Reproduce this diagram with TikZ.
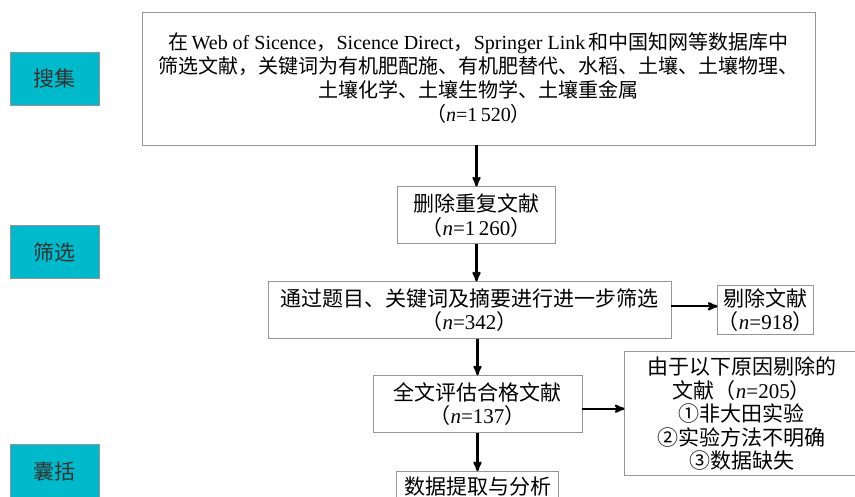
\documentclass[tikz,border=0pt]{standalone}
\usepackage{fontspec}
\setmainfont{Liberation Serif}
\newfontfamily\cjk{Noto Sans CJK SC}
\usepackage{tikz}
\usetikzlibrary{arrows}
\usetikzlibrary{positioning}
\definecolor{stagecyan}{RGB}{0,185,203}
\definecolor{boxgray}{RGB}{150,150,150}
\newcommand{\lat}[1]{{\rmfamily #1}}
\newcommand{\nval}[1]{{\rmfamily\textit{n}=#1}}

\begin{document}
\begin{tikzpicture}[->,>=stealth',x=1pt,y=-1pt,line width=2.2pt,node distance=40pt]
            \tikzstyle{box}=[draw=boxgray, line width=0.9pt, inner sep=0pt, align=center, text=black, font=\cjk\fontsize{21}{23.5}\selectfont]
            \tikzstyle{stage}=[box, fill=stagecyan, minimum width=89pt, minimum height=53pt, text=black!80]

            \useasboundingbox (0,0) rectangle (855,496);

            \node[box, minimum width=673pt, minimum height=133pt, font=\cjk\fontsize{20}{24}\selectfont] (src) at (478.5,78.5)
              {在\,\lat{Web of Sicence}，\lat{Sicence Direct}，\lat{Springer Link}\,和中国知网等数据库中\\
               筛选文献，关键词为有机肥配施、有机肥替代、水稻、土壤、土壤物理、\\
               土壤化学、土壤生物学、土壤重金属\\
               （\nval{1\,520}）};
            \node[box, minimum width=158pt, minimum height=57pt] (dup) [below=41pt of src, xshift=-2pt] {删除重复文献\\（\nval{1\,260}）};
            \node[box, minimum width=403pt, minimum height=57pt] (screen) [below=37pt of dup, xshift=-7pt] {通过题目、关键词及摘要进行进一步筛选\\（\nval{342}）};
            \node[box, minimum width=96pt, minimum height=49pt] (excl1) [right=46pt of screen] {剔除文献\\（\nval{918}）};
            \node[box, minimum width=209pt, minimum height=57pt] (full) [below=36pt of screen, xshift=8pt] {全文评估合格文献\\（\nval{137}）};
            \node[box, minimum width=234pt, minimum height=124pt] (excl2) [right=42pt of full, yshift=-9.5pt]
              {由于以下原因剔除的\\文献（\nval{205}）\\①非大田实验\\②实验方法不明确\\③数据缺失};
            \node[box, minimum width=162pt, minimum height=29pt] (data) [below=38pt of full] {数据提取与分析};

            \node[stage] (collect) [left=42pt of src] {搜集};
            \node[stage] (filter) [below=120pt of collect] {筛选};
            \node[stage] (include) [below=165pt of filter] {囊括};

            \draw (src.south -| dup.north) -- (dup);
            \draw (dup.south) -- (dup.south |- screen.north);
            \draw ([yshift=4pt]screen.east) -- ([yshift=4pt]screen.east -| excl1.west);
            \draw (full.north |- screen.south) -- (full);
            \draw ([yshift=-4.5pt]full.east) -- ([yshift=-4.5pt]full.east -| excl2.west);
            \draw (full) -- (data);
          \end{tikzpicture}
\end{document}
